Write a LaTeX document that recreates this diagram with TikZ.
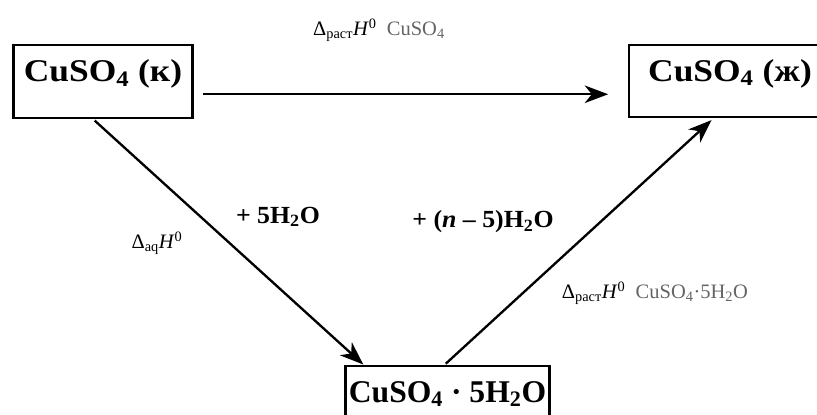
\documentclass[tikz,border=0pt]{standalone}
\usepackage{fontspec}
\setmainfont{Liberation Serif}
\newfontfamily\boxfont[FakeStretch=1.12]{Liberation Serif}
\newfontfamily\wfont[FakeStretch=1.05]{Liberation Serif}
\usetikzlibrary{arrows.meta, positioning}
\definecolor{labgray}{RGB}{100,100,100}

\begin{document}
\begin{tikzpicture}[x=0.03cm,y=-0.03cm]
\tikzstyle{phase}=[draw,line width=2pt,inner sep=0pt,text height=31pt,text depth=31pt,font=\boxfont\bfseries\fontsize{27}{30}\selectfont]
\tikzstyle{water}=[font=\wfont\bfseries\fontsize{21}{24}\selectfont]
\tikzstyle{enth}=[font=\fontsize{17.5}{20}\selectfont]
\tikzstyle{arr}=[line width=2pt,-{Stealth[length=20pt,width=15pt,inset=6pt]}]

\useasboundingbox (0,0) rectangle (817,414);
\clip (0,0) rectangle (817,414);

% Solid
\node[phase,minimum width=153pt] (solid) at (103,81.5) {CuSO\textsubscript{4} (к)};
% Solution
\node[phase,minimum width=172pt] (liquid) at (730,81) {CuSO\textsubscript{4} (ж)};
% Hydrate
\node[phase,minimum width=174pt,font=\bfseries\fontsize{27}{30}\selectfont] (hydrate) at (447.5,402) {CuSO\textsubscript{4} · 5H\textsubscript{2}O};

% Paths
\draw[arr,shorten >=17pt,shorten <=8pt] (solid.-8) -- (solid.-8 -| liquid.west);
\draw[arr,shorten <=2pt] (solid.-105) -- (hydrate.156);
\draw[arr,shorten <=1pt,shorten >=2pt] (hydrate.94) -- (liquid.-114);

% Labels
\node[enth] (top) at (379,30) {Δ\textsubscript{раст}\textit{H}\textsuperscript{0}~~{\color{labgray}CuSO\textsubscript{4}}};
\node[water] (add5) at (278,217) {+ 5H\textsubscript{2}O};
\node[enth] (aq) at (157,243) {Δ\textsubscript{aq}\textit{H}\textsuperscript{0}};
\node[water] (addn) at (483,222) {+ (\textit{n} – 5)H\textsubscript{2}O};
\node[enth] (hyd) at (655,293) {Δ\textsubscript{раст}\textit{H}\textsuperscript{0}~~{\color{labgray}CuSO\textsubscript{4}·5H\textsubscript{2}O}};

\end{tikzpicture}
\end{document}
